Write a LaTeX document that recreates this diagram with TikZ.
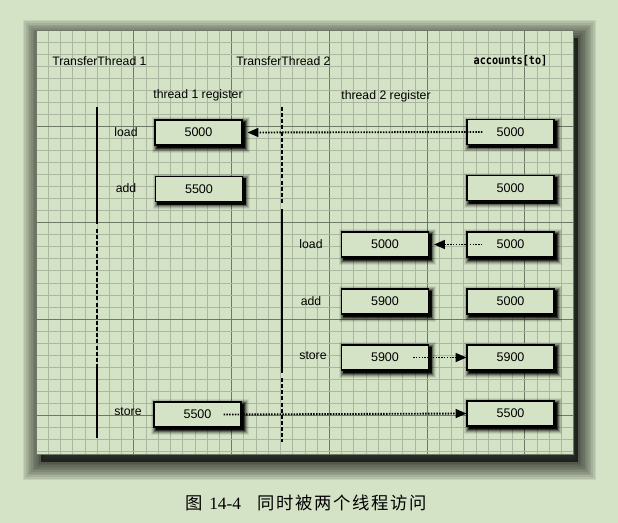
\documentclass[tikz,border=0pt]{standalone}
\usepackage{fontspec}
\setmainfont{Liberation Sans}
\newfontfamily\monobold{DejaVu Sans Mono Bold}
\newfontfamily\cjkfont[LetterSpace=10]{Noto Sans CJK SC}
\newfontfamily\capserif{Liberation Serif}
\usetikzlibrary{arrows.meta,calc}
\definecolor{bgc}{HTML}{D4E3C6}
\definecolor{minorc}{HTML}{ACB7A1}
\definecolor{majorc}{HTML}{6F7767}
\tikzset{
  boxshadow/.style={
    preaction={draw=black, line width=8pt, draw opacity=0.08, transform canvas={shift={(1.8pt,-1.8pt)}}},
    preaction={draw=black, line width=6.5pt, draw opacity=0.12, transform canvas={shift={(1.8pt,-1.8pt)}}},
    preaction={draw=black, line width=5pt, draw opacity=0.18, transform canvas={shift={(1.8pt,-1.8pt)}}},
    preaction={draw=black, line width=3.5pt, draw opacity=0.3, transform canvas={shift={(1.8pt,-1.8pt)}}},
    preaction={draw=black, line width=2pt, draw opacity=0.5, transform canvas={shift={(1.8pt,-1.8pt)}}},
    preaction={draw=black, fill=black, line width=1.2pt, opacity=0.8, transform canvas={shift={(1.8pt,-1.8pt)}}}},
  regbox/.style={draw=black, line width=1.2pt, fill=bgc, minimum width=65pt, minimum height=18.5pt,
    inner sep=0pt, font=\fontsize{9.4}{11}\selectfont, boxshadow},
  lbl/.style={font=\fontsize{9.2}{11}\selectfont, inner sep=0pt},
  flow/.style={line width=1.4pt, dash pattern=on 1.1pt off 1pt, -{Triangle[length=8pt,width=7pt,line width=0pt]}},
  lifeline/.style={line width=1pt},
  waitline/.style={line width=1.2pt, dash pattern=on 3pt off 1.6pt},
  minorline/.style={draw=minorc, line width=0.45pt},
  majorline/.style={draw=majorc, line width=0.6pt},
  shadowlayer/.style={draw=black, draw opacity=0.08}
}
\begin{document}
\begin{tikzpicture}[x=0.75pt, y=-0.75pt]
\fill[bgc] (0,0) rectangle (618,523);
\useasboundingbox (0,0) rectangle (618,523);
% panel shadow (soft, offset to the lower right)
\fill[black, fill opacity=0.6] (41,38) rectangle (578,462);
\foreach \w in {2.5,5,...,27.5} {
  \draw[shadowlayer, line width=\w pt] (41,38) rectangle (578,462);
}
% panel
\fill[bgc] (36,30) rectangle (573,454);
\foreach \i in {0,...,43} {
  \pgfmathtruncatemacro{\m}{mod(\i,8)}
  \ifnum\m=0
    \draw[majorline] ({36+\i*12.22},30) -- ({36+\i*12.22},454);
  \else
    \draw[minorline] ({36+\i*12.22},30) -- ({36+\i*12.22},454);
  \fi
}
\foreach \j in {0,...,35} {
  \pgfmathtruncatemacro{\m}{mod(\j,8)}
  \ifnum\m=0
    \draw[majorline] (36,{30+\j*12.04}) -- (573,{30+\j*12.04});
  \else
    \draw[minorline] (36,{30+\j*12.04}) -- (573,{30+\j*12.04});
  \fi
}
\draw[majorline] (36,30) rectangle (573,454);

% headers
\node[lbl, anchor=west] (h1) at (52,61) {TransferThread 1};
\node[lbl, anchor=west] (h2) at (236,61) {TransferThread 2};
\node[inner sep=0pt, font=\monobold\fontsize{8.8}{10}\selectfont] (h3) at (510.5,61) {\scalebox{0.87}[1]{accounts[to]}};
\node[lbl] (r1) at (198,95) {thread 1 register};
\node[lbl] (r2) at (386,96) {thread 2 register};

% lifelines
\draw[lifeline] (97,107) -- (97,224);
\draw[waitline] (97,229) -- (97,365);
\draw[lifeline] (97,365) -- (97,438);
\draw[waitline] (282,107) -- (282,203);
\draw[lifeline] (282,209) -- (282,373);
\draw[waitline] (282,378) -- (282,442);

% operation labels
\node[lbl] (l1) at (126,132) {load};
\node[lbl] (l2) at (126,188) {add};
\node[lbl] (l3) at (128,412) {store};
\node[lbl] (l4) at (311,244) {load};
\node[lbl] (l5) at (311,301) {add};
\node[lbl] (l6) at (313,356) {store};

% boxes
\node[regbox] (t1load) at (198.5,132.5) {5000};
\node[regbox] (t1add) at (199,189) {5500};
\node[regbox] (t1store) at (197.5,414.5) {5500};
\node[regbox] (t2load) at (385,244.5) {5000};
\node[regbox] (t2add) at (385,301.5) {5900};
\node[regbox] (t2store) at (385,357.5) {5900};
\node[regbox] (acc1) at (510.5,132) {5000};
\node[regbox] (acc2) at (510.5,188) {5000};
\node[regbox] (acc3) at (510.5,244.5) {5000};
\node[regbox] (acc4) at (510.5,301.5) {5000};
\node[regbox] (acc5) at (510.5,357.5) {5900};
\node[regbox] (acc6) at (510.5,413.5) {5500};

% transfers
\draw[flow] ($(acc1.west)+(16,0)$) -- ($(t1load.east)+(5,0)$);
\draw[flow] ($(acc3.west)+(16,0)$) -- ($(t2load.east)+(5,0)$);
\draw[flow] ($(t2store.east)+(-16,0)$) -- (acc5.west);
\draw[flow] ($(t1store.east)+(-18,0)$) -- (acc6.west);

% caption
\node[inner sep=0pt, anchor=west] (cap) at (185,503) {\fontsize{13}{15}\selectfont{\cjkfont 图}\hspace{5pt}{\capserif 14-4}\hspace{12pt}{\cjkfont 同时被两个线程访问}};
\end{tikzpicture}
\end{document}
